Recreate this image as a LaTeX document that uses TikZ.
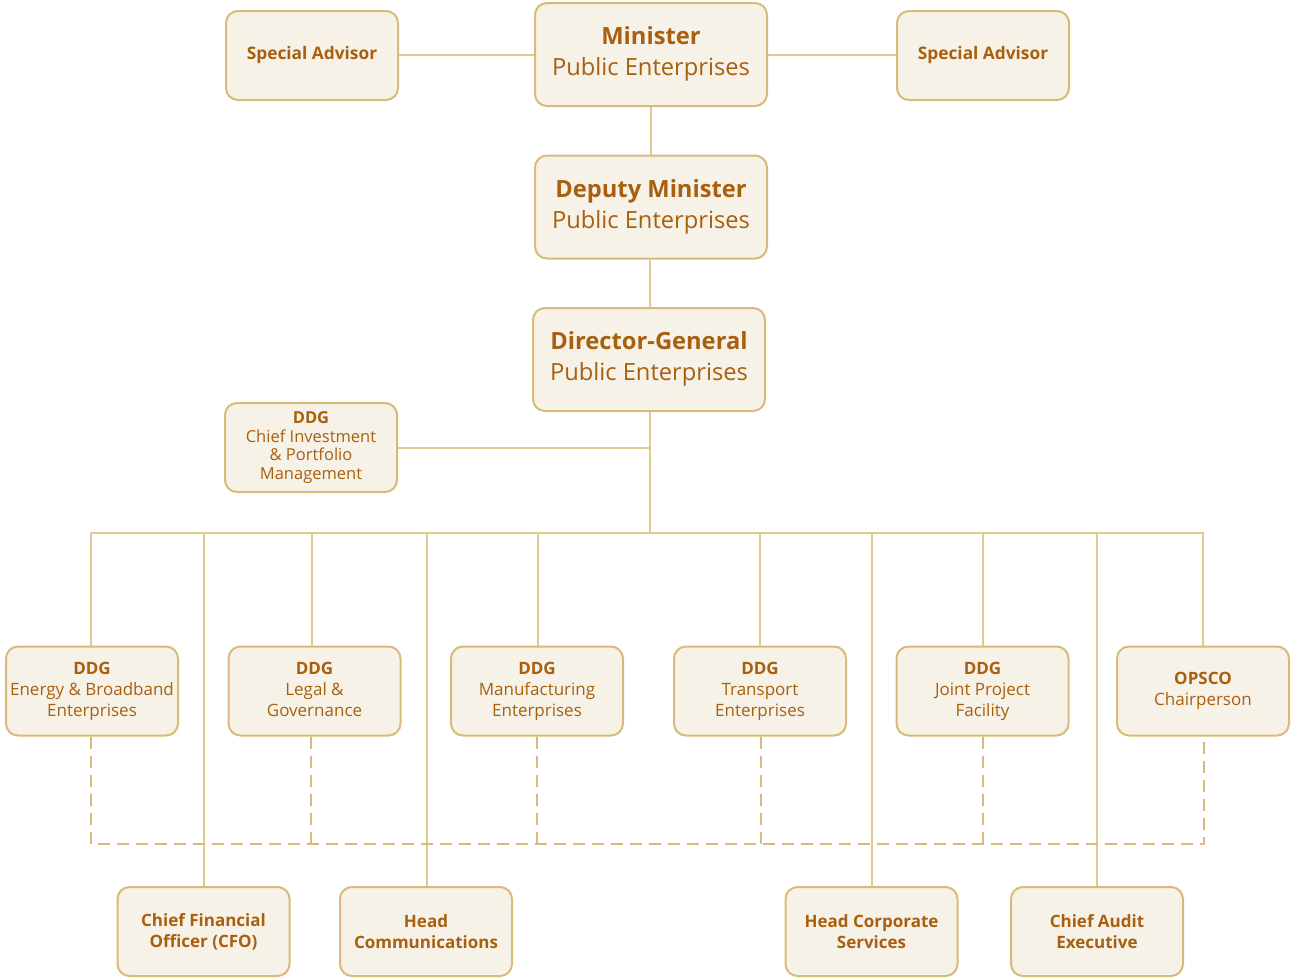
\documentclass[tikz,border=0pt]{standalone}
\usepackage{fontspec}
\setmainfont{Open Sans}
\definecolor{txt}{HTML}{A8600F}
\definecolor{boxfill}{HTML}{F7F2E8}
\definecolor{boxline}{HTML}{D9BA78}
\definecolor{conn}{HTML}{E0C992}
\newcommand{\lowdepth}{\rule[-7pt]{0pt}{7pt}}
\begin{document}
\begin{tikzpicture}[x=1pt,y=-1pt,
  box/.style={draw=boxline,fill=boxfill,line width=2pt,rounded corners=12pt,
    text=txt,align=center,inner sep=0pt},
  bigbox/.style={box,minimum width=232pt,minimum height=103pt,font=\fontsize{23.7}{32}\selectfont},
  smallbox/.style={box,minimum width=172pt,minimum height=89pt,font=\fontsize{17}{21}\selectfont},
  tinybox/.style={box,minimum width=172pt,minimum height=89pt,font=\fontsize{16.5}{18.5}\selectfont},
  link/.style={draw=conn,line width=2pt},
  dlink/.style={draw=boxline,line width=2.2pt,dash pattern=on 12pt off 7pt}]
\useasboundingbox (0,0) rectangle (1292,977);
% top
\node[smallbox,font=\fontsize{17.3}{21}\selectfont] (sa1) at (312,55.5) {\bfseries Special Advisor};
\node[bigbox] (min) at (651,54.5) {\bfseries Minister\\[-1pt]Public Enterprises\lowdepth};
\node[smallbox,font=\fontsize{17.3}{21}\selectfont] (sa2) at (983,55.5) {\bfseries Special Advisor};
\node[bigbox] (dm) at (651,207) {\bfseries Deputy Minister\\[-1pt]Public Enterprises\lowdepth};
\node[bigbox] (dg) at (649,359.5) {\bfseries Director-General\\[-1pt]Public Enterprises\lowdepth};
\node[tinybox] (cipm) at (311,447.5) {\bfseries DDG\\Chief Investment\\\& Portfolio\\Management};
% second row
\node[smallbox] (en) at (92,691) {\bfseries DDG\\Energy \& Broadband\\Enterprises};
\node[smallbox] (lg) at (314.5,691) {\bfseries DDG\\Legal \&\\Governance\vphantom{p}};
\node[smallbox] (mf) at (537,691) {\bfseries DDG\\Manufacturing\\Enterprises};
\node[smallbox] (tr) at (760,691) {\bfseries DDG\\Transport\\Enterprises};
\node[smallbox] (jp) at (982.5,691) {\bfseries DDG\\Joint Project\\Facility};
\node[smallbox] (op) at (1203,691) {\bfseries OPSCO\\Chairperson};
% bottom row
\node[smallbox] (cfo) at (203.5,931.5) {\bfseries Chief Financial\\\bfseries Officer (CFO)};
\node[smallbox] (hc) at (426,931.5) {\bfseries Head\\\bfseries Communications};
\node[smallbox] (hcs) at (871.5,931.5) {\bfseries Head Corporate\\\bfseries Services};
\node[smallbox] (cae) at (1097,931.5) {\bfseries Chief Audit\\\bfseries Executive};
% coordinates
\coordinate (cj) at (650,447.5);
\coordinate (bus) at (650,533);
% connectors
\draw[link] (sa1.east |- 0,55) -- (min.west |- 0,55);
\draw[link] (min.east |- 0,55) -- (sa2.west |- 0,55);
\draw[link] (min.south) -- (dm.north);
\draw[link] (dm.south -| 650,0) -- (dg.north -| 650,0);
\draw[link] (dg.south -| 650,0) -- (bus);
\draw[link] (cipm.east) -- (cj);
\draw[link] (91,533) -- (1204,533);
\draw[link] (91,533) -- (en.north -| 91,0);
\draw[link] (312,533) -- (lg.north -| 312,0);
\draw[link] (538,533) -- (mf.north -| 538,0);
\draw[link] (760,533) -- (tr.north);
\draw[link] (983,533) -- (jp.north -| 983,0);
\draw[link] (1203,533) -- (op.north);
\draw[link] (204,533) -- (cfo.north -| 204,0);
\draw[link] (427,533) -- (hc.north -| 427,0);
\draw[link] (872,533) -- (hcs.north -| 872,0);
\draw[link] (1097,533) -- (cae.north);
% dashed
\draw[dlink] (en.south -| 91,0) -- (91,844) -- (1204,844) -- (op.south -| 1204,0);
\draw[dlink] (lg.south -| 311,0) -- (311,844);
\draw[dlink] (mf.south -| 537,0) -- (537,844);
\draw[dlink] (tr.south -| 761,0) -- (761,844);
\draw[dlink] (jp.south -| 983,0) -- (983,844);
\end{tikzpicture}
\end{document}
